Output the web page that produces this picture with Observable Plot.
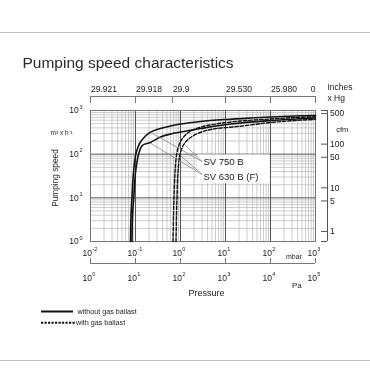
<!DOCTYPE html>
<html><head><meta charset="utf-8">
<script src="https://cdn.jsdelivr.net/npm/d3@7"></script>
<script src="https://cdn.jsdelivr.net/npm/@observablehq/plot@0.6"></script>
<style>
html,body{margin:0;padding:0;background:#fff;}
#wrap{position:relative;width:370px;height:370px;overflow:hidden;font-family:"Liberation Sans",Arial,sans-serif;background:#fff;}
.sep{position:absolute;left:0;width:370px;height:1px;background:#bdbdbd;z-index:2;}
#title{position:absolute;left:22.5px;top:54px;font-size:15.5px;line-height:18px;color:#2a2a2a;white-space:nowrap;z-index:2;}
#chart{position:absolute;left:0;top:0;filter:grayscale(1);z-index:1;}
#legend{position:absolute;left:0;top:300px;filter:grayscale(1);z-index:2;}
#legend text{font-family:"Liberation Sans",Arial,sans-serif;font-size:7.2px;fill:#222;}
</style></head><body>
<div id="wrap">
  <div class="sep" style="top:32px"></div>
  <div id="title">Pumping speed characteristics</div>
  <div id="chart"></div>
  <svg id="legend" width="200" height="35">
    <line x1="41" x2="73" y1="11.5" y2="11.5" stroke="#111" stroke-width="2"/>
    <text x="77.5" y="11.5" dy="0.35em">without gas ballast</text>
    <line x1="41" x2="75" y1="22.7" y2="22.7" stroke="#111" stroke-width="2" stroke-dasharray="2.2,1.3"/>
    <text x="76" y="22.7" dy="0.35em">with gas ballast</text>
  </svg>
  <div class="sep" style="top:360px"></div>
</div>
<script>
// ---- data ----
const p750 = [0.0774,0.0794,0.0836,0.0903,0.1026,0.1227,0.1668,0.2154,0.359,0.599,1.0,2.78,10,35.9,100,359,1000];
const s750 = [1,3.94,10.2,38,103.6,175.5,260.6,318,387,441.6,490.8,560,622,673,710,748,768];
const p630 = [0.0836,0.0858,0.0917,0.1,0.1184,0.141,0.2154,0.359,0.599,1,2.78,12.9,100,359,1000];
const s630 = [1,3.94,10.2,38,103.6,158,185,247,289.6,321.8,387,490.8,590,639,673];
const p750gb = [0.681,0.699,0.717,0.755,0.815,0.917,1.09,1.53,2.78,6.54,21.5,100,359,1000];
const s750gb = [1,3.94,10.2,38,93.2,158,224.8,318,414.6,496,575,639,691,717];
const p630gb = [0.794,0.815,0.836,0.880,0.965,1.148,1.53,2.35,4.64,21.5,100,359,1000];
const s630gb = [1,3.94,10.2,38,93.2,158,224.8,292.7,367,437,531,590,629];

const seriesNames = ["SV 750 B", "SV 630 B (F)"];
const labelP = [3.24, 3.24];
const labelS = [65.5, 29.7];
const leaderFromP = [3.03, 3.03, 3.03, 3.03];
const leaderFromS = [67.5, 67.5, 34.2, 34.2];
const leaderToP = [0.2154, 1.29, 0.2154, 1.0];
const leaderToS = [318, 158, 178.3, 93.2];

const mbarExps = [-2, -1, 0, 1, 2, 3];
const paExps = [0, 1, 2, 3, 4, 5];
const speedExps = [0, 1, 2, 3];
const inHgLabels = ["29.921", "29.918", "29.9", "29.530", "25.980", "0"];
const inHgPos = [0.01, 0.1, 0.66, 10, 100, 1000];
const cfmVals = [500, 100, 50, 10, 5, 1];
const CFM = 1.699; // m3/h per cfm
const labelBox = {x1: 2.4, x2: 100, y1: 21, y2: 100};

// ---- tables ----
const rows = [];
function add(ps, ss, id, gb){ ps.forEach((p,i)=>rows.push({p, s: ss[i], id, gb})); }
add(p750, s750, "750", false);
add(p630, s630, "630", false);
add(p750gb, s750gb, "750gb", true);
add(p630gb, s630gb, "630gb", true);
const leaders = leaderFromP.map((d,i)=>({x1:d, y1:leaderFromS[i], x2:leaderToP[i], y2:leaderToS[i]}));
const labels = seriesNames.map((n,i)=>({n, p: labelP[i], s: labelS[i]}));

const minorX = []; for (let e=-2;e<3;e++) for (let k=2;k<=9;k++) minorX.push(+(k*Math.pow(10,e)).toPrecision(3));
const majorX = [0.1, 1, 10, 100];
const minorY = []; for (let e=0;e<3;e++) for (let k=2;k<=9;k++) minorY.push(k*Math.pow(10,e));
const majorY = [10, 100];

const W=370, H=370, mL=90, mR=55, mT=110, mB=129;
const fW = W-mL-mR, fH = H-mT-mB;
const ink = "#222";
const T = {fill: ink, lineAnchor: "middle"};

const chart = Plot.plot({
  width: W, height: H,
  marginLeft: mL, marginRight: mR, marginTop: mT, marginBottom: mB,
  x: {type: "log", domain: [0.01, 1000], axis: null},
  y: {type: "log", domain: [1, 1000], axis: null},
  style: {fontFamily: '"Liberation Sans", Arial, sans-serif', background: "transparent", overflow: "visible"},
  marks: [
    Plot.ruleX(minorX, {stroke: "#b8b8b8", strokeWidth: 0.7}),
    Plot.ruleY(minorY, {stroke: "#b8b8b8", strokeWidth: 0.7}),
    Plot.ruleX(majorX, {stroke: "#555", strokeWidth: 1}),
    Plot.ruleY(majorY, {stroke: "#555", strokeWidth: 1}),
    Plot.rect([labelBox], {x1: "x1", x2: "x2", y1: "y1", y2: "y2", fill: "white", insetRight: 0.8, insetTop: 0.8}),
    Plot.frame({stroke: "#777"}),
    // curves
    Plot.line(rows.filter(d=>!d.gb), {x: "p", y: "s", z: "id", stroke: "#111", strokeWidth: 1.6, curve: "catmull-rom"}),
    Plot.line(rows.filter(d=>d.gb), {x: "p", y: "s", z: "id", stroke: "#111", strokeWidth: 1.4, strokeDasharray: "3.5,1.8", curve: "catmull-rom"}),
    // leaders + labels
    Plot.link(leaders, {x1: "x1", y1: "y1", x2: "x2", y2: "y2", stroke: "#888", strokeWidth: 0.8}),
    Plot.text(labels, {x: "p", y: "s", text: "n", textAnchor: "start", fontSize: 9.5, ...T}),
    // top inches Hg axis
    Plot.ruleY([1000], {dy: -14, stroke: "#777"}),
    Plot.ruleX(inHgPos, {dy: -14, insetBottom: fH-7, stroke: "#777"}),
    Plot.text(inHgLabels.slice(0,-1), {x: (d,i)=>inHgPos[i], text: d=>d, frameAnchor: "top", dy: -21, dx: 0.5, textAnchor: "start", fontSize: 8.5, ...T}),
    Plot.text(inHgLabels.slice(-1), {x: ()=>inHgPos[inHgPos.length-1], text: d=>d, frameAnchor: "top", dy: -21, textAnchor: "end", fontSize: 8.5, ...T}),
    Plot.text(["Inches"], {text: d=>d, frameAnchor: "top-right", dx: 12, dy: -23.3, textAnchor: "start", fontSize: 8.5, ...T}),
    Plot.text(["x Hg"], {text: d=>d, frameAnchor: "top-right", dx: 12, dy: -12.7, textAnchor: "start", fontSize: 8.5, ...T}),
    // right cfm axis
    Plot.ruleX([1000], {dx: 12, stroke: "#555"}),
    Plot.ruleY([1, 1000], {dx: 12, insetLeft: fW-6, stroke: "#555"}),
    Plot.ruleY(cfmVals, {y: d=>d*CFM, dx: 12, insetLeft: fW-6, stroke: "#555"}),
    Plot.text(cfmVals, {y: d=>d*CFM, text: d=>String(d), frameAnchor: "right", dx: 14.5, textAnchor: "start", fontSize: 8.5, ...T}),
    Plot.text(["cfm"], {text: d=>d, frameAnchor: "top-right", dx: 20.7, dy: 19, textAnchor: "start", fontSize: 7.5, ...T}),
    // bottom mbar labels
    Plot.text(mbarExps, {x: d=>Math.pow(10,d), text: ()=>"10", frameAnchor: "bottom", dy: 11.5, dx: 1.5, textAnchor: "end", fontSize: 8.5, ...T}),
    Plot.text(mbarExps, {x: d=>Math.pow(10,d), text: d=>String(d), frameAnchor: "bottom", dy: 7.5, dx: 1.8, textAnchor: "start", fontSize: 5.5, ...T}),
    Plot.text(["mbar"], {text: d=>d, frameAnchor: "bottom-right", dx: -21.5, dy: 15.7, textAnchor: "middle", fontSize: 7, ...T}),
    // Pa axis
    Plot.ruleY([1], {dy: 22, stroke: "#777"}),
    Plot.ruleX(mbarExps, {x: d=>Math.pow(10,d), dy: 22, insetTop: fH-5, stroke: "#777"}),
    Plot.text(paExps, {x: (d,i)=>Math.pow(10,mbarExps[i]), text: ()=>"10", frameAnchor: "bottom", dy: 36.7, dx: 1.5, textAnchor: "end", fontSize: 8.5, ...T}),
    Plot.text(paExps, {x: (d,i)=>Math.pow(10,mbarExps[i]), text: d=>String(d), frameAnchor: "bottom", dy: 32.7, dx: 1.8, textAnchor: "start", fontSize: 5.5, ...T}),
    Plot.text(["Pa"], {text: d=>d, frameAnchor: "bottom-right", dx: -18.6, dy: 44, textAnchor: "middle", fontSize: 8, ...T}),
    Plot.text(["Pressure"], {text: d=>d, frameAnchor: "bottom", dx: 3.5, dy: 51.7, textAnchor: "middle", fontSize: 9, ...T}),
    // left y labels
    Plot.text(speedExps, {y: d=>Math.pow(10,d), text: ()=>"10", frameAnchor: "left", dx: -11.7, textAnchor: "end", fontSize: 8.5, ...T}),
    Plot.text(speedExps, {y: d=>Math.pow(10,d), text: d=>String(d), frameAnchor: "left", dx: -11, dy: -3.5, textAnchor: "start", fontSize: 5.5, ...T}),
    Plot.text(["m³ x h⁻¹"], {text: d=>d, frameAnchor: "top-left", dx: -40, dy: 22, textAnchor: "start", fontSize: 6.5, ...T}),
    Plot.text(["Pumping speed"], {text: d=>d, frameAnchor: "left", dx: -35, dy: 2, rotate: -90, textAnchor: "middle", fontSize: 8.3, ...T})
  ]
});
document.getElementById("chart").appendChild(chart);
</script>
</body></html>
